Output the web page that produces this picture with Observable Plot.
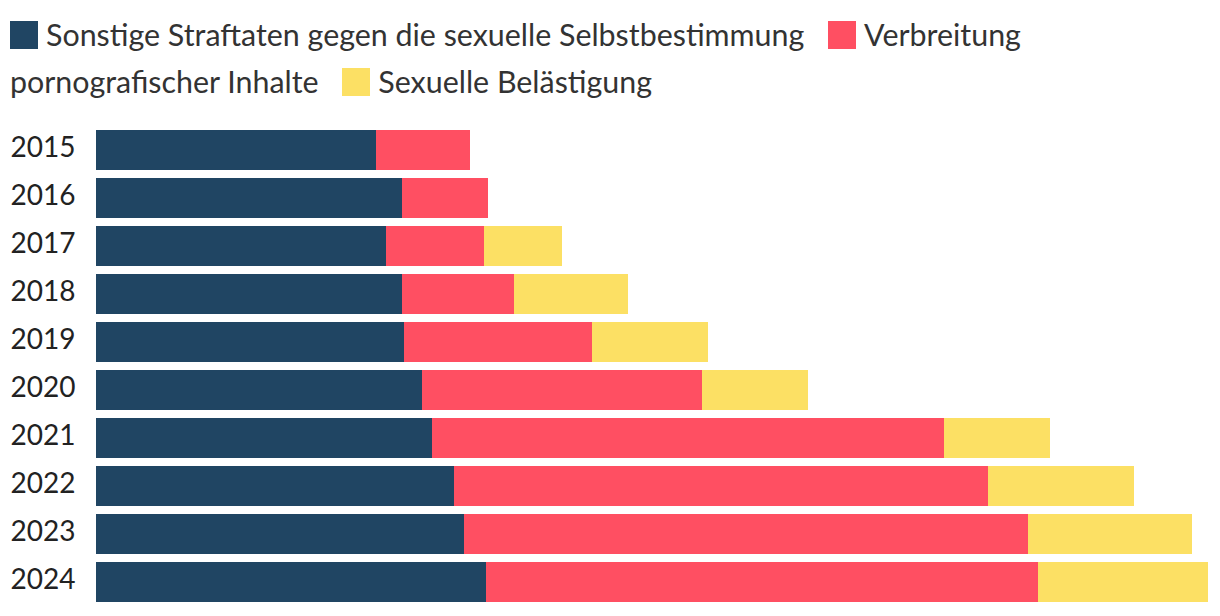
<!DOCTYPE html>
<html><head><meta charset="utf-8">
<script src="https://cdn.jsdelivr.net/npm/d3@7"></script>
<script src="https://cdn.jsdelivr.net/npm/@observablehq/plot@0.6"></script>
<style>
body{margin:0;background:#fff;font-family:Lato,sans-serif;color:#333;}
#legend{box-sizing:border-box;width:1220px;height:110px;padding:11px 10px 0 10px;font-size:30.4px;line-height:47px;}
.sw{display:inline-block;width:28px;height:28px;vertical-align:-3px;margin-right:8px;}
.gap{display:inline-block;width:16px;}
#chart svg{display:block;}
</style></head><body>
<div id="legend"></div>
<div id="chart"></div>
<script>
const years = ["2015","2016","2017","2018","2019","2020","2021","2022","2023","2024"];
const seriesNames = ["Sonstige Straftaten gegen die sexuelle Selbstbestimmung","Verbreitung pornografischer Inhalte","Sexuelle Belästigung"];
const colors = ["#204563","#ff4f62","#fce064"];
const sonstige = [280,306,290,306,308,326,336,358,368,390];
const verbreitung = [94,86,98,112,188,280,512,534,564,552];
const belaestigung = [0,0,78,114,116,106,106,146,164,170];

const legend = document.getElementById("legend");
legend.innerHTML = seriesNames.map((n,i)=>{
  const words = n.split(" ");
  const first = `<span style="white-space:nowrap"><span class="sw" style="background:${colors[i]}"></span><span>${words[0]}</span></span>`;
  return [first, ...words.slice(1).map(w=>`<span>${w}</span>`)].join(" ") + (i < seriesNames.length-1 ? `<span class="gap"></span>` : "");
}).join(" ");

const cols = [sonstige, verbreitung, belaestigung];
const data = [];
years.forEach((y,j)=>cols.forEach((c,i)=>data.push({year:y, series:seriesNames[i], value:c[j]})));
const maxTotal = d3.max(years.map((y,j)=>sonstige[j]+verbreitung[j]+belaestigung[j]));

const plot = Plot.plot({
  width:1220, height:506,
  marginLeft:96, marginRight:12, marginTop:12, marginBottom:6,
  style:{fontFamily:"Lato, sans-serif", fontSize:"28px", color:"#222", background:"#fff"},
  x:{domain:[0,maxTotal], axis:null},
  y:{domain:years, padding:1/6, round:false, label:null},
  color:{domain:seriesNames, range:colors},
  marks:[
    Plot.barX(data, Plot.stackX({x:"value", y:"year", fill:"series", order:seriesNames})),
    Plot.axisY({tickSize:0, tickPadding:21, label:null, fontSize:28, dy:-2})
  ]
});
document.getElementById("chart").appendChild(plot);
</script></body></html>
